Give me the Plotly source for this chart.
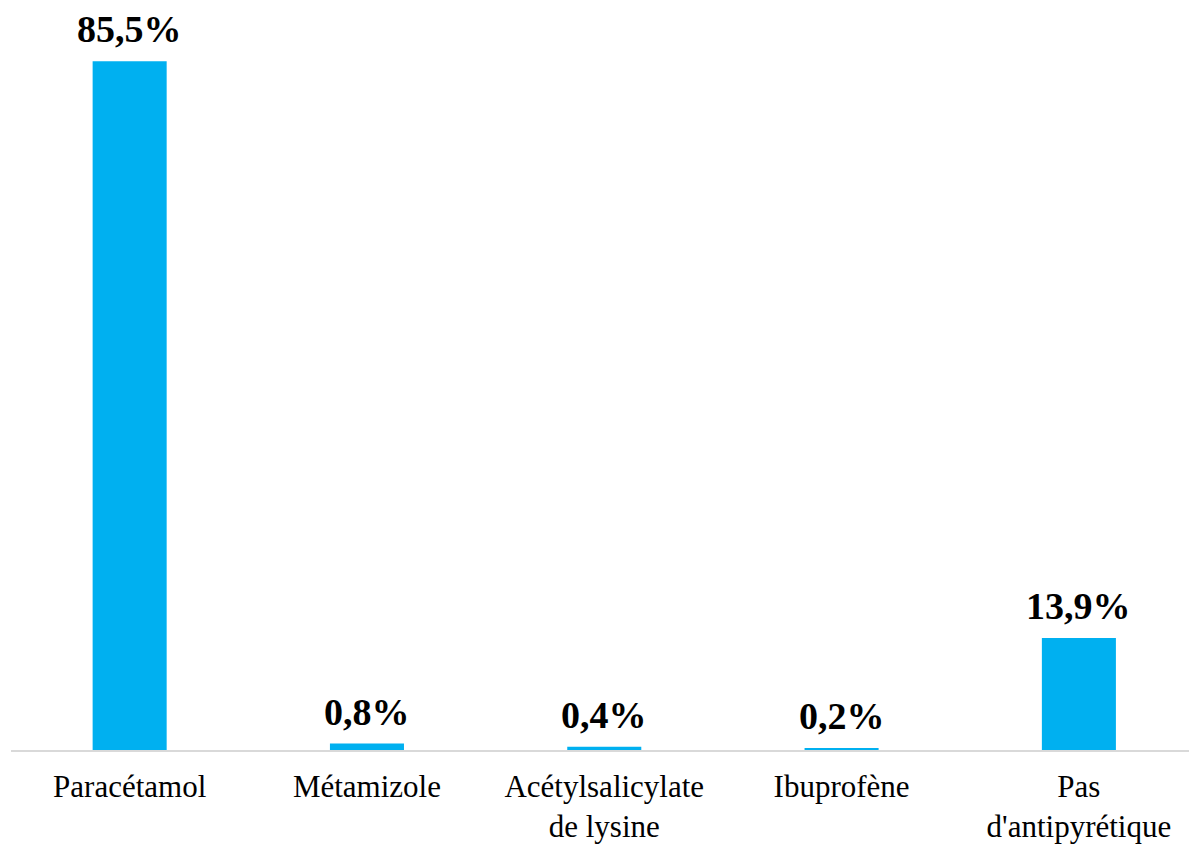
import plotly.graph_objects as go

categories = ["Paracétamol", "Métamizole", "Acétylsalicylate<br>de lysine", "Ibuprofène", "Pas<br>d'antipyrétique"]
values = [85.5, 0.8, 0.4, 0.2, 13.9]
labels = ["85,5%", "0,8%", "0,4%", "0,2%", "13,9%"]

BLUE = "#00B0F0"
FONT = "Liberation Serif, Times New Roman, serif"

x_idx = list(range(len(categories)))

fig = go.Figure(
    go.Bar(
        x=x_idx,
        y=values,
        width=0.312,
        marker=dict(color=BLUE, line=dict(width=0)),
        hoverinfo="skip",
    )
)

for xi, v, lab in zip(x_idx, values, labels):
    fig.add_annotation(
        x=xi, y=v, text="<b>" + lab + "</b>",
        showarrow=False, xanchor="center", yanchor="bottom",
        yshift=9,
        font=dict(family=FONT, size=38, color="#000000"),
    )

fig.update_layout(
    width=1189, height=847,
    margin=dict(l=11, r=0, t=0, b=97),
    paper_bgcolor="white", plot_bgcolor="white",
    showlegend=False,
    xaxis=dict(
        range=[-0.5, 4.464],
        tickmode="array", tickvals=x_idx, ticktext=categories,
        tickfont=dict(family=FONT, size=31, color="#000000"),
        showgrid=False, zeroline=False,
        showline=True, linecolor="#D9D9D9", linewidth=1.5,
        ticks="", ticklabelstandoff=8, automargin=False,
    ),
    yaxis=dict(
        range=[0, 93.1],
        showgrid=False, zeroline=False, showline=False,
        showticklabels=False, ticks="", automargin=False,
    ),
)

fig.write_html("out.html")
